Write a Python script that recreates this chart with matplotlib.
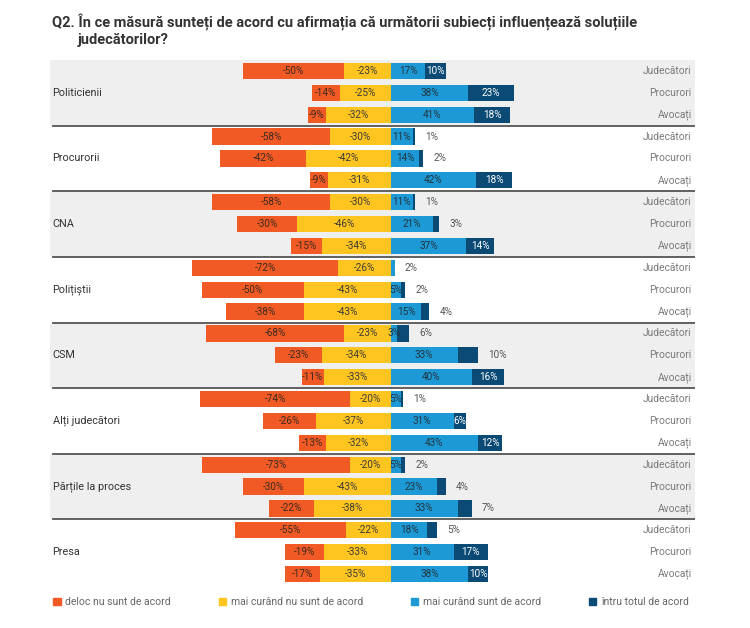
import numpy as np
import matplotlib.pyplot as plt
from matplotlib.patches import Patch

# --- data ---
groups = ["Politicienii", "Procurorii", "CNA", "Polițiștii", "CSM",
          "Alți judecători", "Părțile la proces", "Presa"]
respondents = ["Judecători", "Procurori", "Avocați"]

deloc = [50, 14, 9, 58, 42, 9, 58, 30, 15, 72, 50, 38,
         68, 23, 11, 74, 26, 13, 73, 30, 22, 55, 19, 17]
mai_nu = [23, 25, 32, 30, 42, 31, 30, 46, 34, 26, 43, 43,
          23, 34, 33, 20, 37, 32, 20, 43, 38, 22, 33, 35]
mai_da = [17, 38, 41, 11, 14, 42, 11, 21, 37, 2, 5, 15,
          3, 33, 40, 5, 31, 43, 5, 23, 33, 18, 31, 38]
total = [10, 23, 18, 1, 2, 18, 1, 3, 14, 0, 2, 4,
         6, 10, 16, 1, 6, 12, 2, 4, 7, 5, 17, 10]
# rows whose last value is written beside the bar
outside = [0, 0, 0, 1, 1, 0, 1, 1, 0, 1, 1, 1,
           1, 1, 0, 1, 0, 0, 1, 1, 1, 1, 0, 0]

legend_labels = ["deloc nu sunt de acord", "mai curând nu sunt de acord",
                 "mai curând sunt de acord", "întru totul de acord"]

ORANGE = "#f15a24"
YELLOW = "#fec41f"
BLUE = "#1d9ad6"
NAVY = "#0b4a75"
BAND = "#efefef"

plt.rcParams["font.family"] = ["Roboto", "DejaVu Sans"]

deloc = np.array(deloc)
mai_nu = np.array(mai_nu)
mai_da = np.array(mai_da)
total = np.array(total)
y = np.arange(len(deloc))

fig = plt.figure(figsize=(7.5, 6.28), dpi=100)
ax = fig.add_axes([50 / 750, 1 - 585 / 628, 645 / 750, 525 / 628])
ax.set_xlim(-168, 150)
ax.set_ylim(len(y) - 0.5, -0.5)
ax.axis("off")

# group bands and separators
for g in range(len(groups)):
    if g % 2 == 0:
        ax.axhspan(g * 3 - 0.5, g * 3 + 2.5, color=BAND, zorder=0, lw=0)
    if g < len(groups) - 1:
        ax.plot([0.005, 1], [g * 3 + 2.5] * 2, color="#555555", lw=1.3,
                transform=ax.get_yaxis_transform(), zorder=1)
    ax.text(0.004, g * 3 + 1, groups[g], transform=ax.get_yaxis_transform(),
            ha="left", va="center", fontsize=7.8, color="#333333")

for i in range(len(y)):
    ax.text(0.995, i, respondents[i % 3], transform=ax.get_yaxis_transform(),
            ha="right", va="center", fontsize=7.4, color="#7a7a7a")

h = 0.74
ax.barh(y, -deloc, left=-mai_nu, height=h, color=ORANGE, zorder=2)
ax.barh(y, -mai_nu, height=h, color=YELLOW, zorder=2)
ax.barh(y, mai_da, height=h, color=BLUE, zorder=2)
ax.barh(y, total, left=mai_da, height=h, color=NAVY, zorder=2)

lab = dict(ha="center", va="center", fontsize=7.2, zorder=3)
for i in range(len(y)):
    ax.text(-mai_nu[i] - deloc[i] / 2, i, f"-{deloc[i]}%", color="#3b2a22", **lab)
    ax.text(-mai_nu[i] / 2, i, f"-{mai_nu[i]}%", color="#3b3b3b", **lab)
    if mai_da[i] >= 3:
        ax.text(mai_da[i] / 2, i, f"{mai_da[i]}%", color="#23343f", **lab)
    end = mai_da[i] + total[i]
    last = total[i] if total[i] > 0 else mai_da[i]
    if outside[i]:
        ax.text(end + 5, i, f"{last}%", ha="left", va="center",
                fontsize=7.2, color="#555555", zorder=3)
    else:
        ax.text(mai_da[i] + total[i] / 2, i, f"{total[i]}%", color="white", **lab)

# title
fig.text(52 / 750, 1 - 22 / 628,
         "Q2. În ce măsură sunteți de acord cu afirmația că următorii subiecți influențează soluțiile",
         ha="left", va="center", fontsize=10.5, fontweight="bold", color="#333333")
fig.text(78 / 750, 1 - 40 / 628, "judecătorilor?", ha="left", va="center",
         fontsize=10.5, fontweight="bold", color="#333333")

handles = [Patch(color=c) for c in (ORANGE, YELLOW, BLUE, NAVY)]
fig.legend(handles, legend_labels, loc="center left",
           bbox_to_anchor=(44 / 750, 1 - 602 / 628), ncol=4, frameon=False,
           fontsize=7.5, handlelength=0.7, handleheight=0.7, handletextpad=0.45,
           columnspacing=4.6, labelcolor="#666666")

fig.savefig("out.png", dpi=100, facecolor="white")
